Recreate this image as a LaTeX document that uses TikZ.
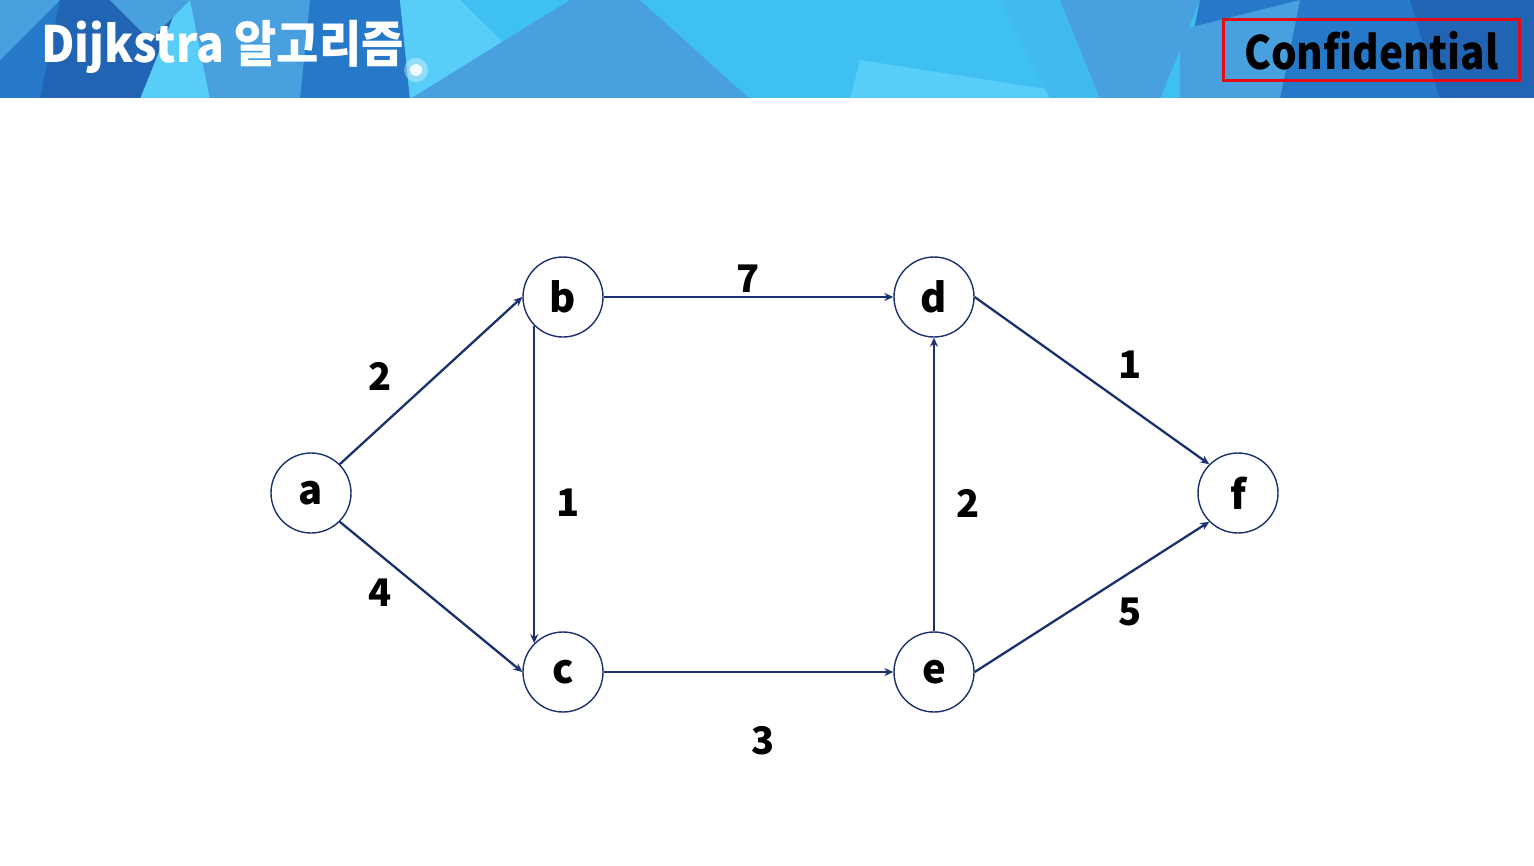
\documentclass[tikz,border=0pt]{standalone}
\usepackage{fontspec}
\setmainfont{Noto Sans CJK KR}
\newfontfamily\titlefont{Noto Sans CJK KR}
\usetikzlibrary{arrows.meta}
\definecolor{navy}{RGB}{28,48,110}
\definecolor{hbase}{RGB}{62,192,243}
\definecolor{hmid}{RGB}{72,160,222}
\definecolor{hdark}{RGB}{38,120,200}
\definecolor{hdeep}{RGB}{34,100,180}
\definecolor{hlight}{RGB}{88,205,248}
\definecolor{confred}{RGB}{230,10,20}
\tikzset{
  vert/.style={circle, draw=navy, line width=1.4pt, minimum size=80pt, inner sep=0pt,
    font=\fontsize{40}{40}\selectfont\bfseries, fill=white},
  edge/.style={draw=navy, line width=2.3pt, -{Stealth[length=9pt,width=8pt]}},
  wlabel/.style={font=\fontsize{38}{38}\selectfont\bfseries, text=black}
}
\begin{document}
\begin{tikzpicture}[x=1pt,y=-1pt]
\useasboundingbox (0,0) rectangle (1534,865);
\fill[white] (0,0) rectangle (1534,865);
% header
\fill[hbase] (0,0) rectangle (1534,99);
\fill[hdark] (0,0) -- (250,0) -- (140,99) -- (0,99) -- cycle;
\fill[hmid] (0,0) -- (60,0) -- (0,60) -- cycle;
\fill[hdeep] (60,0) -- (200,0) -- (160,99) -- (40,99) -- cycle;
\fill[hlight] (180,0) -- (245,0) -- (215,99) -- (140,99) -- cycle;
\fill[hmid] (110,0) -- (190,0) -- (150,40) -- cycle;
\fill[hdark] (300,0) -- (400,0) -- (410,99) -- (300,99) -- cycle;
\fill[hmid] (190,0) -- (310,0) -- (300,99) -- (210,99) -- cycle;
\fill[hlight] (400,0) -- (460,0) -- (560,99) -- (410,99) -- cycle;
\fill[hmid] (570,0) -- (640,0) -- (610,99) -- (410,99) -- cycle;
\fill[hmid] (430,99) -- (640,0) -- (770,60) -- (750,99) -- cycle;
\fill[hbase] (640,0) -- (760,0) -- (780,99) -- (750,99) -- cycle;
\fill[hlight] (860,60) -- (1110,99) -- (850,99) -- cycle;
\fill[hmid] (1060,0) -- (1200,0) -- (1160,99) -- (1060,99) -- cycle;
\fill[hbase!80!hmid] (1000,0) -- (1060,0) -- (1100,99) -- (1050,99) -- cycle;
\fill[hdark] (1200,0) -- (1534,0) -- (1534,99) -- (1180,99) -- cycle;
\fill[hmid] (1180,30) -- (1300,0) -- (1280,99) -- (1180,99) -- cycle;
\fill[hdeep] (1410,0) -- (1534,0) -- (1534,99) -- (1440,99) -- cycle;
\fill[white, opacity=0.35] (416,70) circle (12);
\fill[white, opacity=0.9] (416,70) circle (6);
\draw[white, line width=1.5pt] (0,99) -- (1534,99);
\node[anchor=west, text=white, font=\titlefont\fontsize{50}{50}\selectfont\bfseries, xscale=0.92, inner sep=0pt] (title) at (41,47) {Dijkstra 알고리즘};
\node[draw=confred, line width=3pt, minimum width=296pt, minimum height=61pt, inner sep=0pt] (confbox) at (1371.5,49.5) {};
\node[font=\fontsize{46}{46}\selectfont\bfseries, xscale=0.88, text=black, inner sep=0pt] (conf) at (1371.5,51) {Confidential};
% nodes
\node[vert] (a) at (311,493) {a};
\node[vert] (b) at (563,297) {b};
\node[vert] (c) at (563,672) {c};
\node[vert] (d) at (934,297) {d};
\node[vert] (e) at (934,672) {e};
\node[vert] (f) at (1238,493) {f};
% edges
\draw[edge] (a.north east) -- (b.west);
\draw[edge] (a.south east) -- (c.west);
\draw[edge] (b.south west) -- (c.north west);
\draw[edge] (b.east) -- (d.west);
\draw[edge] (c.east) -- (e.west);
\draw[edge] (e.north) -- (d.south);
\draw[edge] (d.east) -- (f.north west);
\draw[edge] (e.east) -- (f.south west);
% labels
\node[wlabel] (l2) at (380,376) {2};
\node[wlabel] (l4) at (380,593) {4};
\node[wlabel] (l1a) at (568,503) {1};
\node[wlabel] (l7) at (748,279) {7};
\node[wlabel] (l3) at (763,741) {3};
\node[wlabel] (l2b) at (968,503) {2};
\node[wlabel] (l1b) at (1130,365) {1};
\node[wlabel] (l5) at (1130,612) {5};
\end{tikzpicture}
\end{document}
